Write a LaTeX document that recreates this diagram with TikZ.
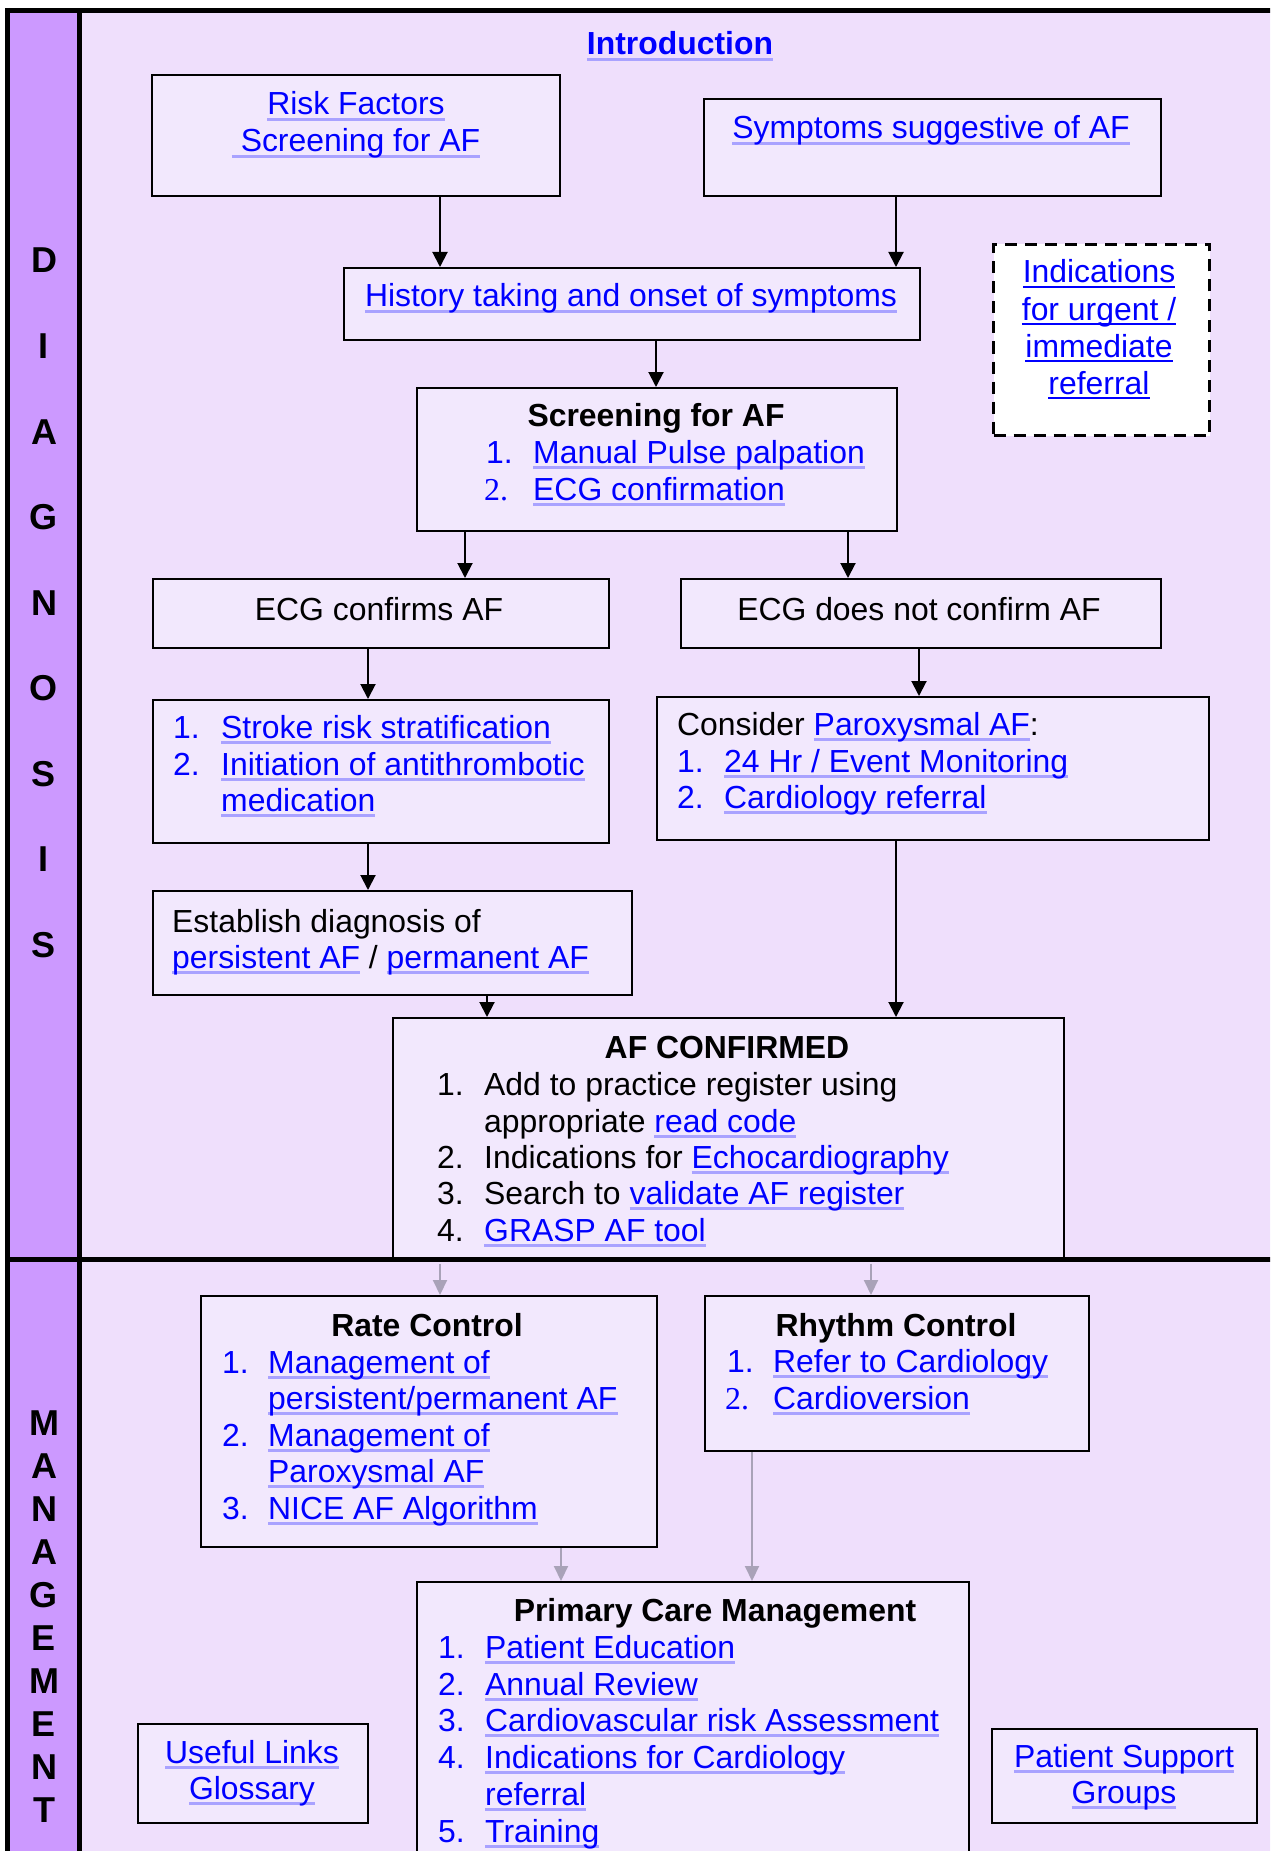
\documentclass[tikz,border=0pt]{standalone}
\usepackage{fontspec}
\setmainfont{Liberation Sans}
\newfontfamily\serifnum{Liberation Serif}
\usetikzlibrary{arrows.meta}
\definecolor{bgc}{HTML}{EFDFFC}
\definecolor{boxc}{HTML}{F2E8FD}
\definecolor{barc}{HTML}{CC99FF}
\definecolor{lnkc}{HTML}{0000FF}
\definecolor{ulc}{HTML}{A9A2FF}
\definecolor{grc}{HTML}{A9A2B8}
\newcommand\nf{\fontsize{31.9pt}{37pt}\selectfont}
\newsavebox\lkbox
\newcommand\lk[1]{\sbox\lkbox{\color{lnkc}#1}\rlap{\textcolor{ulc}{\rule[-5.8pt]{\wd\lkbox}{2.7pt}}}\usebox\lkbox}
\newcommand\lkb[1]{\sbox\lkbox{\color{lnkc}#1}\rlap{\textcolor{lnkc}{\rule[-5.3pt]{\wd\lkbox}{2.4pt}}}\usebox\lkbox}
\tikzset{
  bx/.style={draw=black, line width=2.1pt, fill=boxc, inner sep=0pt, anchor=north west},
  dbx/.style={draw=black, line width=3pt, fill=white, inner sep=0pt, anchor=north west, dash pattern=on 12pt off 8pt},
  txt/.style={inner sep=0pt, font=\nf, text=black},
  ttl/.style={inner sep=0pt, font=\nf\bfseries, text=black, anchor=base},
  num/.style={inner sep=0pt, font=\nf, text=lnkc, anchor=base west},
  bnum/.style={inner sep=0pt, font=\nf, text=black, anchor=base west},
  itm/.style={inner sep=0pt, font=\nf, text=black, anchor=base west},
  ctr/.style={inner sep=0pt, font=\nf, text=black, anchor=base},
  lt/.style={inner sep=0pt, font=\fontsize{36pt}{40pt}\selectfont\bfseries, text=black, anchor=base},
  arr/.style={draw=black, line width=2pt, -{Triangle[width=15pt,length=15pt]}},
  garr/.style={draw=grc, line width=2pt, -{Triangle[width=14pt,length=15pt]}},
  frm/.style={draw=black, line width=5pt}
}
\begin{document}
\begin{tikzpicture}[x=1pt,y=-1pt]
\useasboundingbox (0,0) rectangle (1270,1851);
\clip (0,0) rectangle (1270,1851);
\fill[white] (0,0) rectangle (1270,1851);
\fill[bgc] (7.5,10.5) rectangle (1280,1860);
\fill[barc] (7.5,10.5) rectangle (79.5,1860);
% column coordinates
\coordinate (x440) at (440,0);
\coordinate (x896) at (896,0);
\coordinate (x656) at (656,0);
\coordinate (x465) at (465,0);
\coordinate (x848) at (848,0);
\coordinate (x368) at (368,0);
\coordinate (x919) at (919,0);
\coordinate (x487) at (487,0);
\coordinate (x871) at (871,0);
\coordinate (x561) at (561,0);
\coordinate (x752) at (752,0);
% boxes
\node[bx, minimum width=408pt, minimum height=121pt] (b1) at (151,74) {};
\node[bx, minimum width=457pt, minimum height=97pt] (b2) at (703,98) {};
\node[bx, minimum width=576pt, minimum height=72pt] (b3) at (343,267) {};
\node[bx, minimum width=480pt, minimum height=143pt] (b4) at (416,387) {};
\node[dbx, minimum width=216pt, minimum height=191pt] (bd) at (992,243) {};
\node[bx, minimum width=456pt, minimum height=69pt] (b5) at (152,578) {};
\node[bx, minimum width=480pt, minimum height=69pt] (b6) at (680,578) {};
\node[bx, minimum width=456pt, minimum height=143pt] (b7) at (152,699) {};
\node[bx, minimum width=552pt, minimum height=143pt] (b8) at (656,696) {};
\node[bx, minimum width=479pt, minimum height=104pt] (b9) at (152,890) {};
\node[bx, minimum width=671pt, minimum height=242pt] (b10) at (392,1017) {};
\node[bx, minimum width=456pt, minimum height=251pt] (b11) at (200,1295) {};
\node[bx, minimum width=384pt, minimum height=155pt] (b12) at (704,1295) {};
\node[bx, minimum width=552pt, minimum height=320pt] (b13) at (416,1581) {};
\node[bx, minimum width=230pt, minimum height=99pt] (b14) at (137,1723) {};
\node[bx, minimum width=265pt, minimum height=94pt] (b15) at (991,1728) {};
% frame lines
\draw[frm] (5,10.5) -- (1280,10.5);
\draw[frm] (7.5,8) -- (7.5,1860);
\draw[frm] (79.5,10.5) -- (79.5,1860);
\draw[frm] (5,1259.5) -- (1280,1259.5);
% bar letters
\node[lt] (d1) at (44,273) {D};
\node[lt] (d2) at (44,358.5) {I};
\node[lt] (d3) at (44,444) {A};
\node[lt] (d4) at (44,529.5) {G};
\node[lt] (d5) at (44,615) {N};
\node[lt] (d6) at (44,700.5) {O};
\node[lt] (d7) at (44,786) {S};
\node[lt] (d8) at (44,871.5) {I};
\node[lt] (d9) at (44,957) {S};
\node[lt] (m1) at (44,1435) {M};
\node[lt] (m2) at (44,1478) {A};
\node[lt] (m3) at (44,1521) {N};
\node[lt] (m4) at (44,1564) {A};
\node[lt] (m5) at (44,1607) {G};
\node[lt] (m6) at (44,1650) {E};
\node[lt] (m7) at (44,1693) {M};
\node[lt] (m8) at (44,1736) {E};
\node[lt] (m9) at (44,1779) {N};
\node[lt] (m10) at (44,1822) {T};
% texts
\node[ttl] (intro) at (680,55) {\lk{Introduction}};
\node[ctr] (t1a) at (356,115) {\lk{Risk Factors}};
\node[ctr] (t1b) at (356,152) {\lk{\ Screening for AF}};
\node[ctr] (t2) at (931,139) {\lk{Symptoms suggestive of AF}};
\node[ctr] (t3) at (631,307) {\lk{History taking and onset of symptoms}};
\node[ttl] (t4) at (656,426) {Screening for AF};
\node[num] (n4a) at (486,463) {1.};
\node[itm] (i4a) at (533,463) {\lk{Manual Pulse palpation}};
\node[num] (n4b) at (484,500) {\serifnum 2.};
\node[itm] (i4b) at (533,500) {\lk{ECG confirmation}};
\node[ctr] (td1) at (1099,283) {\lkb{Indications}};
\node[ctr] (td2) at (1099,320) {\lkb{for urgent /}};
\node[ctr] (td3) at (1099,357) {\lkb{immediate}};
\node[ctr] (td4) at (1099,394) {\lkb{referral}};
\node[ctr] (t5) at (379,620) {ECG confirms AF};
\node[ctr] (t6) at (919,620) {ECG does not confirm AF};
\node[num] (n7a) at (173,738) {1.};
\node[itm] (i7a) at (221,738) {\lk{Stroke risk stratification}};
\node[num] (n7b) at (173,775) {2.};
\node[itm] (i7b) at (221,775) {\lk{Initiation of antithrombotic}};
\node[itm] (i7c) at (221,811) {\lk{medication}};
\node[itm] (t8) at (677,735) {Consider \lk{Paroxysmal AF}:};
\node[num] (n8a) at (677,772) {1.};
\node[itm] (i8a) at (724,772) {\lk{24 Hr / Event Monitoring}};
\node[num] (n8b) at (677,808) {2.};
\node[itm] (i8b) at (724,808) {\lk{Cardiology referral}};
\node[itm] (t9a) at (172,932) {Establish diagnosis of};
\node[itm] (t9b) at (172,968) {\lk{persistent AF} / \lk{permanent AF}};
\node[ttl] (t10) at (727,1058) {AF CONFIRMED};
\node[bnum] (n10a) at (437,1095) {1.};
\node[itm] (i10a) at (484,1095) {Add to practice register using};
\node[itm] (i10b) at (484,1132) {appropriate \lk{read code}};
\node[bnum] (n10c) at (437,1168) {2.};
\node[itm] (i10c) at (484,1168) {Indications for \lk{Echocardiography}};
\node[bnum] (n10d) at (437,1204) {3.};
\node[itm] (i10d) at (484,1204) {Search to \lk{validate AF register}};
\node[bnum] (n10e) at (437,1241) {4.};
\node[itm] (i10e) at (484,1241) {\lk{GRASP AF tool}};
\node[ttl] (t11) at (427,1336) {Rate Control};
\node[num] (n11a) at (222,1373) {1.};
\node[itm] (i11a) at (268,1373) {\lk{Management of}};
\node[itm] (i11b) at (268,1409) {\lk{persistent/permanent AF}};
\node[num] (n11c) at (222,1446) {2.};
\node[itm] (i11c) at (268,1446) {\lk{Management of}};
\node[itm] (i11d) at (268,1482) {\lk{Paroxysmal AF}};
\node[num] (n11e) at (222,1519) {3.};
\node[itm] (i11e) at (268,1519) {\lk{NICE AF Algorithm}};
\node[ttl] (t12) at (896,1336) {Rhythm Control};
\node[num] (n12a) at (727,1372) {1.};
\node[itm] (i12a) at (773,1372) {\lk{Refer to Cardiology}};
\node[num] (n12b) at (725,1409) {\serifnum 2.};
\node[itm] (i12b) at (773,1409) {\lk{Cardioversion}};
\node[ttl] (t13) at (715,1621) {Primary Care Management};
\node[num] (n13a) at (438,1658) {1.};
\node[itm] (i13a) at (485,1658) {\lk{Patient Education}};
\node[num] (n13b) at (438,1695) {2.};
\node[itm] (i13b) at (485,1695) {\lk{Annual Review}};
\node[num] (n13c) at (438,1731) {3.};
\node[itm] (i13c) at (485,1731) {\lk{Cardiovascular risk Assessment}};
\node[num] (n13d) at (438,1768) {4.};
\node[itm] (i13d) at (485,1768) {\lk{Indications for Cardiology}};
\node[itm] (i13e) at (485,1805) {\lk{referral}};
\node[num] (n13f) at (438,1842) {5.};
\node[itm] (i13f) at (485,1842) {\lk{Training}};
\node[ctr] (t14a) at (252,1763) {\lk{Useful Links}};
\node[ctr] (t14b) at (252,1799) {\lk{Glossary}};
\node[ctr] (t15a) at (1124,1767) {\lk{Patient Support}};
\node[ctr] (t15b) at (1124,1803) {\lk{Groups}};
% connectors
\draw[arr] (b1.south -| x440) -- (b3.north -| x440);
\draw[arr] (b2.south -| x896) -- (b3.north -| x896);
\draw[arr] (b3.south -| x656) -- (b4.north -| x656);
\draw[arr] (b4.south -| x465) -- (b5.north -| x465);
\draw[arr] (b4.south -| x848) -- (b6.north -| x848);
\draw[arr] (b5.south -| x368) -- (b7.north -| x368);
\draw[arr] (b6.south -| x919) -- (b8.north -| x919);
\draw[arr] (b7.south -| x368) -- (b9.north -| x368);
\draw[arr] (b9.south -| x487) -- (b10.north -| x487);
\draw[arr] (b8.south -| x896) -- (b10.north -| x896);
\draw[garr] ([yshift=-2.5pt]b10.south -| x440) -- (b11.north -| x440);
\draw[garr] ([yshift=-2.5pt]b10.south -| x871) -- (b12.north -| x871);
\draw[garr] (b11.south -| x561) -- (b13.north -| x561);
\draw[garr] (b12.south -| x752) -- (b13.north -| x752);
\end{tikzpicture}
\end{document}
